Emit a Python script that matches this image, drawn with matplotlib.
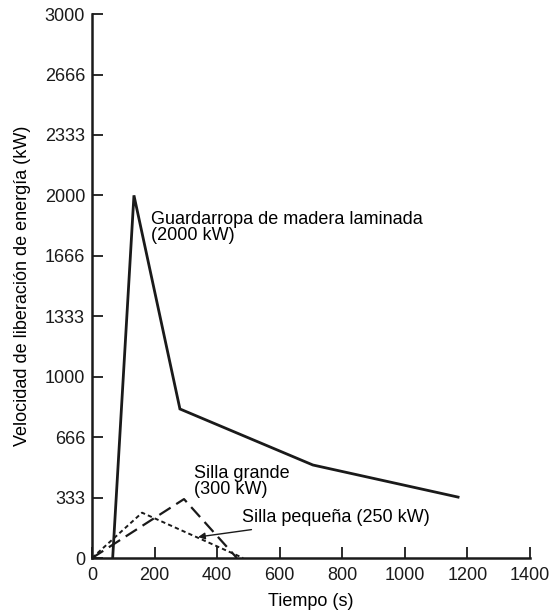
import matplotlib
matplotlib.use("Agg")
import matplotlib.pyplot as plt

# Data
wardrobe_t = [66, 134, 281, 706, 1170]
wardrobe_q = [0, 2000, 822, 513, 336]

big_chair_t = [0, 294, 463]
big_chair_q = [0, 325, 0]

small_chair_t = [0, 160, 483]
small_chair_q = [0, 250, 0]

xticks = [0, 200, 400, 600, 800, 1000, 1200, 1400]
yticks = [0, 333, 666, 1000, 1333, 1666, 2000, 2333, 2666, 3000]

plt.rcParams['font.family'] = ['Liberation Sans', 'DejaVu Sans']
plt.rcParams['font.size'] = 13

fig = plt.figure(figsize=(5.52, 6.10), dpi=100)
ax = fig.add_axes([0.1667, 0.0852, 0.7935, 0.8918])

ax.plot(wardrobe_t, wardrobe_q, color='#1a1a1a', lw=2.0, solid_joinstyle='miter')
ax.plot(big_chair_t, big_chair_q, color='#1a1a1a', lw=1.6, linestyle=(0, (6, 3)))
ax.plot(small_chair_t, small_chair_q, color='#1a1a1a', lw=1.4, linestyle=(0, (2.2, 1.6)))

ax.text(189, 1915, 'Guardarropa de madera laminada\n(2000 kW)', va='top', ha='left',
        fontsize=13, linespacing=0.92)
ax.text(326, 515, 'Silla grande\n(300 kW)', va='top', ha='left', fontsize=13, linespacing=0.92)
ax.annotate('Silla pequeña (250 kW)', xy=(339, 116), xytext=(479, 221),
            va='center', ha='left', fontsize=13,
            arrowprops=dict(arrowstyle='-|>', color='#1a1a1a', lw=1.0,
                            mutation_scale=10, shrinkA=2, shrinkB=0))

ax.set_xlim(0, 1400)
ax.set_ylim(0, 3000)
ax.set_xticks(xticks)
ax.set_yticks(yticks)
ax.tick_params(direction='in', length=8, width=1.3, colors='#1a1a1a', labelsize=13, pad=5)
ax.tick_params(axis='x', pad=6.5)
for s in ['top', 'right']:
    ax.spines[s].set_visible(False)
for s in ['left', 'bottom']:
    ax.spines[s].set_linewidth(1.8)
    ax.spines[s].set_color('#1a1a1a')

ax.set_xlabel('Tiempo (s)', fontsize=13, labelpad=6.5)
ax.set_ylabel('Velocidad de liberación de energía (kW)', fontsize=13, labelpad=10)

fig.savefig('out.png', dpi=100)
